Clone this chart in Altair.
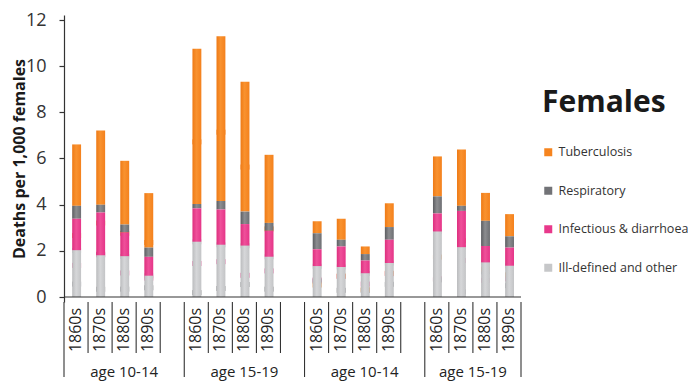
import altair as alt
import pandas as pd

decades = ["1860s", "1870s", "1880s", "1890s"]
groups = ["age 10-14", "age 15-19", "age 10-14", "age 15-19"]
causes = ["Tuberculosis", "Respiratory", "Infectious & diarrhoea", "Ill-defined and other"]

# values in bar order: group 1 (4 decades), group 2, group 3, group 4
ill_defined = [2.02, 1.81, 1.76, 0.92, 2.39, 2.26, 2.22, 1.74, 1.33, 1.30, 1.02, 1.47, 2.83, 2.15, 1.49, 1.35]
infectious = [1.37, 1.85, 1.04, 0.82, 1.45, 1.53, 0.94, 1.13, 0.74, 0.89, 0.56, 1.01, 0.79, 1.58, 0.72, 0.79]
respiratory = [0.56, 0.34, 0.34, 0.40, 0.19, 0.37, 0.54, 0.34, 0.69, 0.29, 0.28, 0.55, 0.74, 0.22, 1.09, 0.49]
tuberculosis = [2.66, 3.21, 2.76, 2.36, 6.72, 7.14, 5.63, 2.95, 0.52, 0.91, 0.33, 1.03, 1.73, 2.44, 1.21, 0.96]

colors = ["#F6841E", "#727377", "#E8388B", "#C6C7C9"]
grad_stops = [
    ["#EE7A16", "#F9922F", "#F4811D"],
    ["#5C5D61", "#8C8D90", "#6E6F73"],
    ["#DD2F7E", "#EF509A", "#E53588"],
    ["#BBBCBE", "#D6D7D9", "#C3C4C6"],
]

series = {
    "Ill-defined and other": ill_defined,
    "Infectious & diarrhoea": infectious,
    "Respiratory": respiratory,
    "Tuberculosis": tuberculosis,
}
stack_rank = {"Ill-defined and other": 0, "Infectious & diarrhoea": 1, "Respiratory": 2, "Tuberculosis": 3}

rows = []
for gi in range(4):
    for di in range(4):
        k = gi * 4 + di
        slot = gi * 5 + di
        for c, vals in series.items():
            rows.append({"slot": slot, "x0": slot + 0.34, "x1": slot + 0.71,
                         "cause": c, "rank": stack_rank[c], "value": vals[k]})
df = pd.DataFrame(rows)

n_slots = 19
long_b = [0, 5, 10, 15, 19]
short_b = [b for b in range(n_slots + 1) if b not in long_b]
lab_rows = [{"xc": gi * 5 + di + 0.5, "decade": d} for gi in range(4) for di, d in enumerate(decades)]
grp_rows = [{"gx": (long_b[i] + long_b[i + 1]) / 2, "group": g} for i, g in enumerate(groups)]

FONT = "Open Sans"
W, H = 457, 287

xscale = alt.Scale(domain=[0, n_slots], nice=False, zero=False)
yscale = alt.Scale(domain=[0, 12], nice=False)

bars = alt.Chart(df).mark_bar().encode(
    x=alt.X("x0:Q", scale=xscale, axis=None),
    x2="x1:Q",
    y=alt.Y("value:Q", stack="zero", scale=yscale,
            title="Deaths per 1,000 females",
            axis=alt.Axis(values=[0, 2, 4, 6, 8, 10, 12], grid=False, tickSize=5,
                          tickColor="#333", domainColor="#333", tickWidth=1.2, domainWidth=1.2,
                          labelFontSize=18, labelFont=FONT, labelColor="#333", labelPadding=13,
                          titleFontSize=16, titleFont=FONT, titleFontWeight="bold",
                          titleColor="#1a1a1a", titlePadding=-2)),
    color=alt.Color("cause:N", scale=alt.Scale(domain=causes, range=colors),
                    legend=alt.Legend(title="Females", orient="none", legendX=478, legendY=73,
                                      padding=0, titleFontSize=30, titleFont=FONT,
                                      titleFontWeight="bold", titleColor="#1a1a1a",
                                      titlePadding=28, labelFontSize=12.5, labelFont=FONT,
                                      labelColor="#333", symbolType="square", symbolSize=64,
                                      symbolStrokeWidth=0, rowPadding=25.5, labelOffset=4)),
    order=alt.Order("rank:Q"),
)

stacked = alt.Chart(df).transform_stack(
    stack="value", groupby=["slot"], sort=[alt.SortField("rank")], as_=["ylo", "yhi"]
)
overlays = []
for c, st in zip(causes, grad_stops):
    g = alt.Gradient(gradient="linear", x1=0, x2=1, y1=0, y2=0,
                     stops=[alt.GradientStop(color=st[0], offset=0),
                            alt.GradientStop(color=st[1], offset=0.45),
                            alt.GradientStop(color=st[2], offset=1)])
    overlays.append(
        stacked.transform_filter(alt.datum.cause == c).mark_bar(fill=g).encode(
            x="x0:Q", x2="x1:Q", y="ylo:Q", y2="yhi:Q")
    )

baseline = alt.Chart(pd.DataFrame({"a": [0], "b": [n_slots], "y": [0]})).mark_rule(
    color="#333", strokeWidth=1.2).encode(x="a:Q", x2="b:Q", y="y:Q")

short_rules = alt.Chart(pd.DataFrame({"b": short_b})).mark_rule(color="#333", strokeWidth=1.1).encode(
    x="b:Q", y=alt.value(H), y2=alt.value(338))
long_rules = alt.Chart(pd.DataFrame({"b": long_b})).mark_rule(color="#333", strokeWidth=1.1).encode(
    x="b:Q", y=alt.value(H), y2=alt.value(362))

dec_text = alt.Chart(pd.DataFrame(lab_rows)).mark_text(
    angle=270, fontSize=16, font=FONT, color="#222", align="center", baseline="middle"
).encode(x="xc:Q", y=alt.value(315), text="decade:N")

grp_text = alt.Chart(pd.DataFrame(grp_rows)).mark_text(
    fontSize=15, font=FONT, color="#222", align="center", baseline="middle"
).encode(x="gx:Q", y=alt.value(357), text="group:N")

chart = alt.layer(bars, *overlays, baseline, short_rules, long_rules, dec_text, grp_text).properties(
    width=W, height=H,
    padding={"left": 56, "top": 7, "right": 167, "bottom": 83},
    autosize=alt.AutoSizeParams(type="none"),
).configure_view(stroke=None)

chart.save("out.html", embed_options={"renderer": "svg", "actions": False})
